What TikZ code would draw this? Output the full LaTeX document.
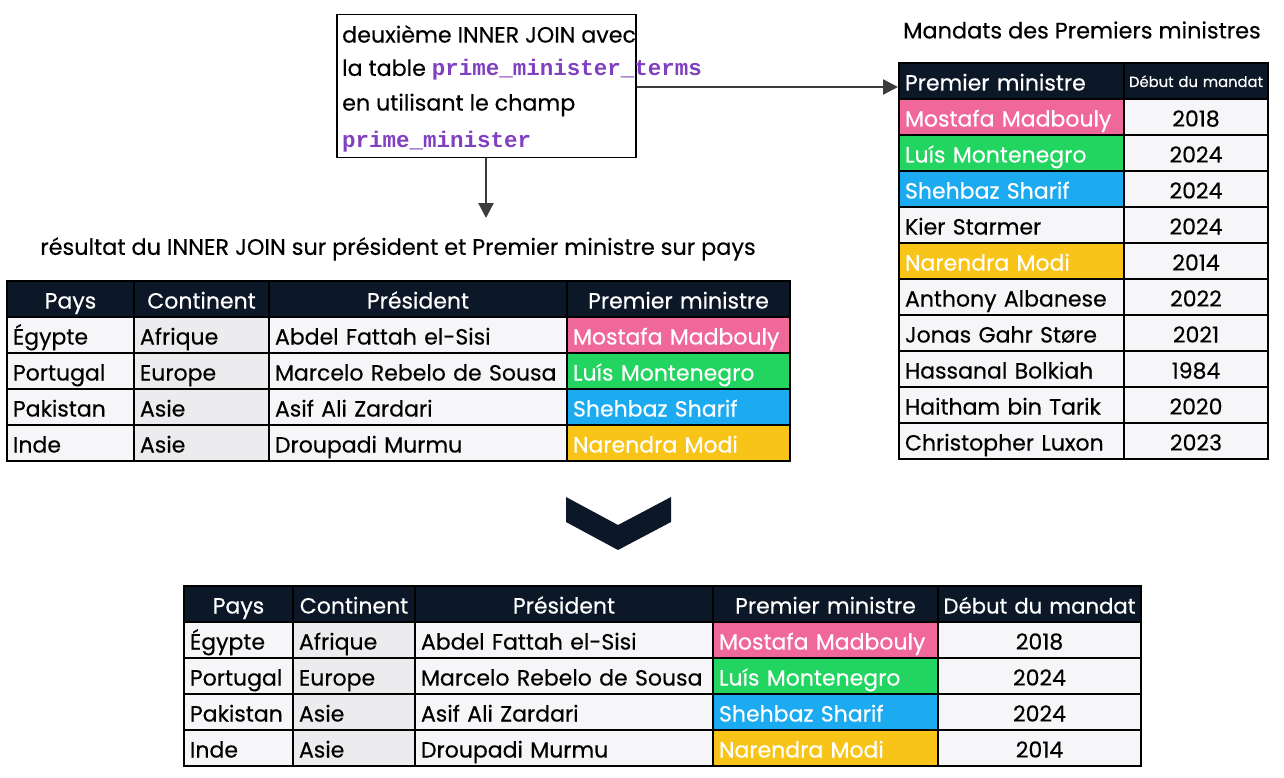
\documentclass[tikz,border=0pt]{standalone}
\usepackage{fontspec}
\setmainfont{Poppins}[FakeBold=0.35]
\newfontfamily\codefont{Liberation Mono}
\usetikzlibrary{arrows.meta,positioning}
\definecolor{navy}{RGB}{12,24,40}
\definecolor{pinkc}{RGB}{240,104,154}
\definecolor{greenc}{RGB}{34,212,96}
\definecolor{bluec}{RGB}{28,170,240}
\definecolor{yellowc}{RGB}{248,196,24}
\definecolor{cellw}{RGB}{246,246,248}
\definecolor{cellg}{RGB}{236,236,238}
\definecolor{codec}{RGB}{128,64,192}
\definecolor{arrc}{RGB}{60,60,60}
\newcommand\cellfont{\fontsize{22}{26}\selectfont}
\newcommand\smallcell{\fontsize{14.8}{17}\selectfont}
\newcommand\code[1]{{\codefont\bfseries\fontsize{22.5}{26}\selectfont\color{codec}#1}}

\begin{document}
\begin{tikzpicture}[x=1pt,y=-1pt,
                cl/.style={draw=black, line width=2pt, anchor=north west, fill=cellw, minimum height=36pt, inner xsep=6pt, inner ysep=0pt, text height=19pt, text depth=0pt, font=\cellfont, align=left},
                hd/.style={cl, fill=navy, text=white, align=center},
                gr/.style={fill=cellg},
                mid/.style={align=center},
                pk/.style={fill=pinkc, text=white},
                gn/.style={fill=greenc, text=white},
                bl/.style={fill=bluec, text=white},
                ye/.style={fill=yellowc, text=white},
                wa/.style={minimum width=127pt, text width=115pt},
                wb/.style={minimum width=135pt, text width=123pt},
                wc/.style={minimum width=298pt, text width=286pt},
                wd/.style={minimum width=223pt, text width=211pt},
                we/.style={minimum width=225pt, text width=213pt},
                wf/.style={minimum width=144pt, text width=132pt},
                wg/.style={minimum width=109pt, text width=97pt},
                wh/.style={minimum width=122pt, text width=110pt},
                wi/.style={minimum width=203pt, text width=203pt, inner xsep=0pt},
                qbox/.style={draw=black, line width=1.5pt, anchor=north west, minimum width=299pt, minimum height=143pt, inner sep=0pt},
                qtx/.style={anchor=west, inner sep=0pt, font=\fontsize{22.2}{26}\selectfont},
                ttl/.style={inner sep=0pt, font=\fontsize{22.4}{26}\selectfont},
                arr/.style={draw=arrc, line width=2.5pt, -{Triangle[length=15pt,width=15pt]}}]
                \useasboundingbox (0,0) rectangle (1284,778);
                \node[qbox] (q) at (336,14) {};
                \node[qtx] (q1) at (342,34) {deuxième INNER JOIN avec};
                \node[qtx] (q2) at (342,70) {la table \code{prime\_minister\_terms}};
                \node[qtx] (q3) at (342,105) {en utilisant le champ};
                \node[qtx] (q4) at (342,142) {\code{prime\_minister}};
                \node[ttl, anchor=west] (mt) at (903,30) {Mandats des Premiers ministres};
                \node[ttl] (rt) at (398,249) {résultat du INNER JOIN sur président et Premier ministre sur pays};
                \node[hd,wa] (lh1) at (6,280) {Pays};
                \node[hd,wb] (lh2) at (133,280) {Continent};
                \node[hd,wc] (lh3) at (268,280) {Président};
                \node[hd,wd] (lh4) at (566,280) {Premier ministre};
                \node[cl,wa] (l11) at (6,316) {Égypte};
                \node[cl,wb,gr] (l12) at (133,316) {Afrique};
                \node[cl,wc] (l13) at (268,316) {Abdel Fattah el-Sisi};
                \node[cl,wd,pk] (l14) at (566,316) {Mostafa Madbouly};
                \node[cl,wa] (l21) at (6,352) {Portugal};
                \node[cl,wb,gr] (l22) at (133,352) {Europe};
                \node[cl,wc] (l23) at (268,352) {Marcelo Rebelo de Sousa};
                \node[cl,wd,gn] (l24) at (566,352) {Luís Montenegro};
                \node[cl,wa] (l31) at (6,388) {Pakistan};
                \node[cl,wb,gr] (l32) at (133,388) {Asie};
                \node[cl,wc] (l33) at (268,388) {Asif Ali Zardari};
                \node[cl,wd,bl] (l34) at (566,388) {Shehbaz Sharif};
                \node[cl,wa] (l41) at (6,424) {Inde};
                \node[cl,wb,gr] (l42) at (133,424) {Asie};
                \node[cl,wc] (l43) at (268,424) {Droupadi Murmu};
                \node[cl,wd,ye] (l44) at (566,424) {Narendra Modi};
                \node[hd,we,align=left] (rh1) at (898,62) {Premier ministre};
                \node[hd,minimum width=144pt,text width=144pt,inner xsep=0pt,font=\smallcell,text height=14pt,text depth=2pt] (rh2) at (1123,62) {Début du mandat};
                \node[cl,we,pk] (r11) at (898,98) {Mostafa Madbouly};
                \node[cl,wf,mid] (r12) at (1123,98) {2018};
                \node[cl,we,gn] (r21) at (898,134) {Luís Montenegro};
                \node[cl,wf,mid] (r22) at (1123,134) {2024};
                \node[cl,we,bl] (r31) at (898,170) {Shehbaz Sharif};
                \node[cl,wf,mid] (r32) at (1123,170) {2024};
                \node[cl,we] (r41) at (898,206) {Kier Starmer};
                \node[cl,wf,mid] (r42) at (1123,206) {2024};
                \node[cl,we,ye] (r51) at (898,242) {Narendra Modi};
                \node[cl,wf,mid] (r52) at (1123,242) {2014};
                \node[cl,we] (r61) at (898,278) {Anthony Albanese};
                \node[cl,wf,mid] (r62) at (1123,278) {2022};
                \node[cl,we] (r71) at (898,314) {Jonas Gahr Støre};
                \node[cl,wf,mid] (r72) at (1123,314) {2021};
                \node[cl,we] (r81) at (898,350) {Hassanal Bolkiah};
                \node[cl,wf,mid] (r82) at (1123,350) {1984};
                \node[cl,we] (r91) at (898,386) {Haitham bin Tarik};
                \node[cl,wf,mid] (r92) at (1123,386) {2020};
                \node[cl,we] (r101) at (898,422) {Christopher Luxon};
                \node[cl,wf,mid] (r102) at (1123,422) {2023};
                \fill[navy] (566,497) -- (618,525) -- (671,497) -- (671,522) -- (618,550) -- (566,522) -- cycle;
                \node[hd,wg] (bh1) at (183,585) {Pays};
                \node[hd,wh] (bh2) at (292,585) {Continent};
                \node[hd,wc] (bh3) at (414,585) {Président};
                \node[hd,we] (bh4) at (712,585) {Premier ministre};
                \node[hd,wi,font=\fontsize{21.2}{25}\selectfont] (bh5) at (937,585) {Début du mandat};
                \node[cl,wg] (b11) at (183,621) {Égypte};
                \node[cl,wh,gr] (b12) at (292,621) {Afrique};
                \node[cl,wc] (b13) at (414,621) {Abdel Fattah el-Sisi};
                \node[cl,we,pk] (b14) at (712,621) {Mostafa Madbouly};
                \node[cl,wi,mid] (b15) at (937,621) {2018};
                \node[cl,wg] (b21) at (183,657) {Portugal};
                \node[cl,wh,gr] (b22) at (292,657) {Europe};
                \node[cl,wc] (b23) at (414,657) {Marcelo Rebelo de Sousa};
                \node[cl,we,gn] (b24) at (712,657) {Luís Montenegro};
                \node[cl,wi,mid] (b25) at (937,657) {2024};
                \node[cl,wg] (b31) at (183,693) {Pakistan};
                \node[cl,wh,gr] (b32) at (292,693) {Asie};
                \node[cl,wc] (b33) at (414,693) {Asif Ali Zardari};
                \node[cl,we,bl] (b34) at (712,693) {Shehbaz Sharif};
                \node[cl,wi,mid] (b35) at (937,693) {2024};
                \node[cl,wg] (b41) at (183,729) {Inde};
                \node[cl,wh,gr] (b42) at (292,729) {Asie};
                \node[cl,wc] (b43) at (414,729) {Droupadi Murmu};
                \node[cl,we,ye] (b44) at (712,729) {Narendra Modi};
                \node[cl,wi,mid] (b45) at (937,729) {2014};
                \coordinate (dn) at (486,218);
                \coordinate (ay) at (0,87);
                \draw[arr] (q.south -| dn) -- (dn);
                \draw[arr] (q.east |- ay) -- (rh1.west |- ay);
            \end{tikzpicture}
\end{document}
